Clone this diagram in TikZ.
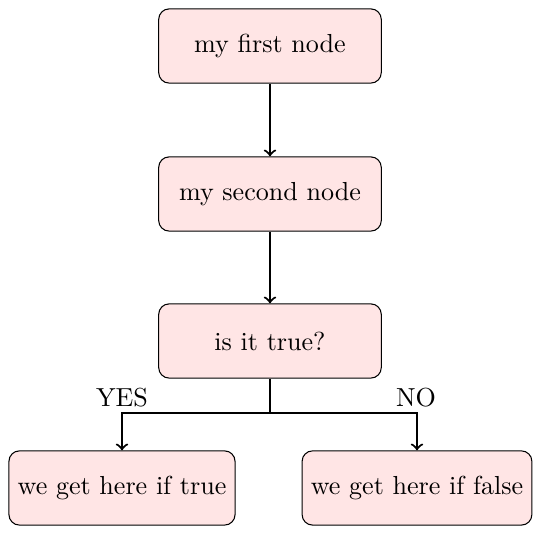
\documentclass[tikz,border=0pt]{standalone}
\usepackage{amsmath,amssymb,xcolor,tikz}

\begin{document}
\begin{tikzpicture}[x=0.3835pt,y=0.3835pt,yscale=-1,xscale=1]
\tikzset{flowbox/.style={draw, rounded corners, fill=red!10, minimum width=3cm, minimum height=1cm},
  flowarrow/.style={->, thick}}

\useasboundingbox (0,0) rectangle (540,534);

\node [flowbox] (first) at (270,46) {my first node};

\node [flowbox] (second) at (270,194) {my second node};

\node [flowbox] (test) at (270,341) {is it true?};

\node [flowbox] (iftrue) at (122,488) {we get here if true};

\node [flowbox] (iffalse) at (417,488) {we get here if false};

\coordinate (split) at (270,413);

\draw [flowarrow] (first) -- (second);

\draw [flowarrow] (second) -- (test);

\draw [thick] (test) -- (split);

\draw [flowarrow] (split) -| (iftrue);

\draw [flowarrow] (split) -| (iffalse);

\node (yes) at (122,398) {YES};

\node (no) at (416,398) {NO};

\end{tikzpicture}
\end{document}
